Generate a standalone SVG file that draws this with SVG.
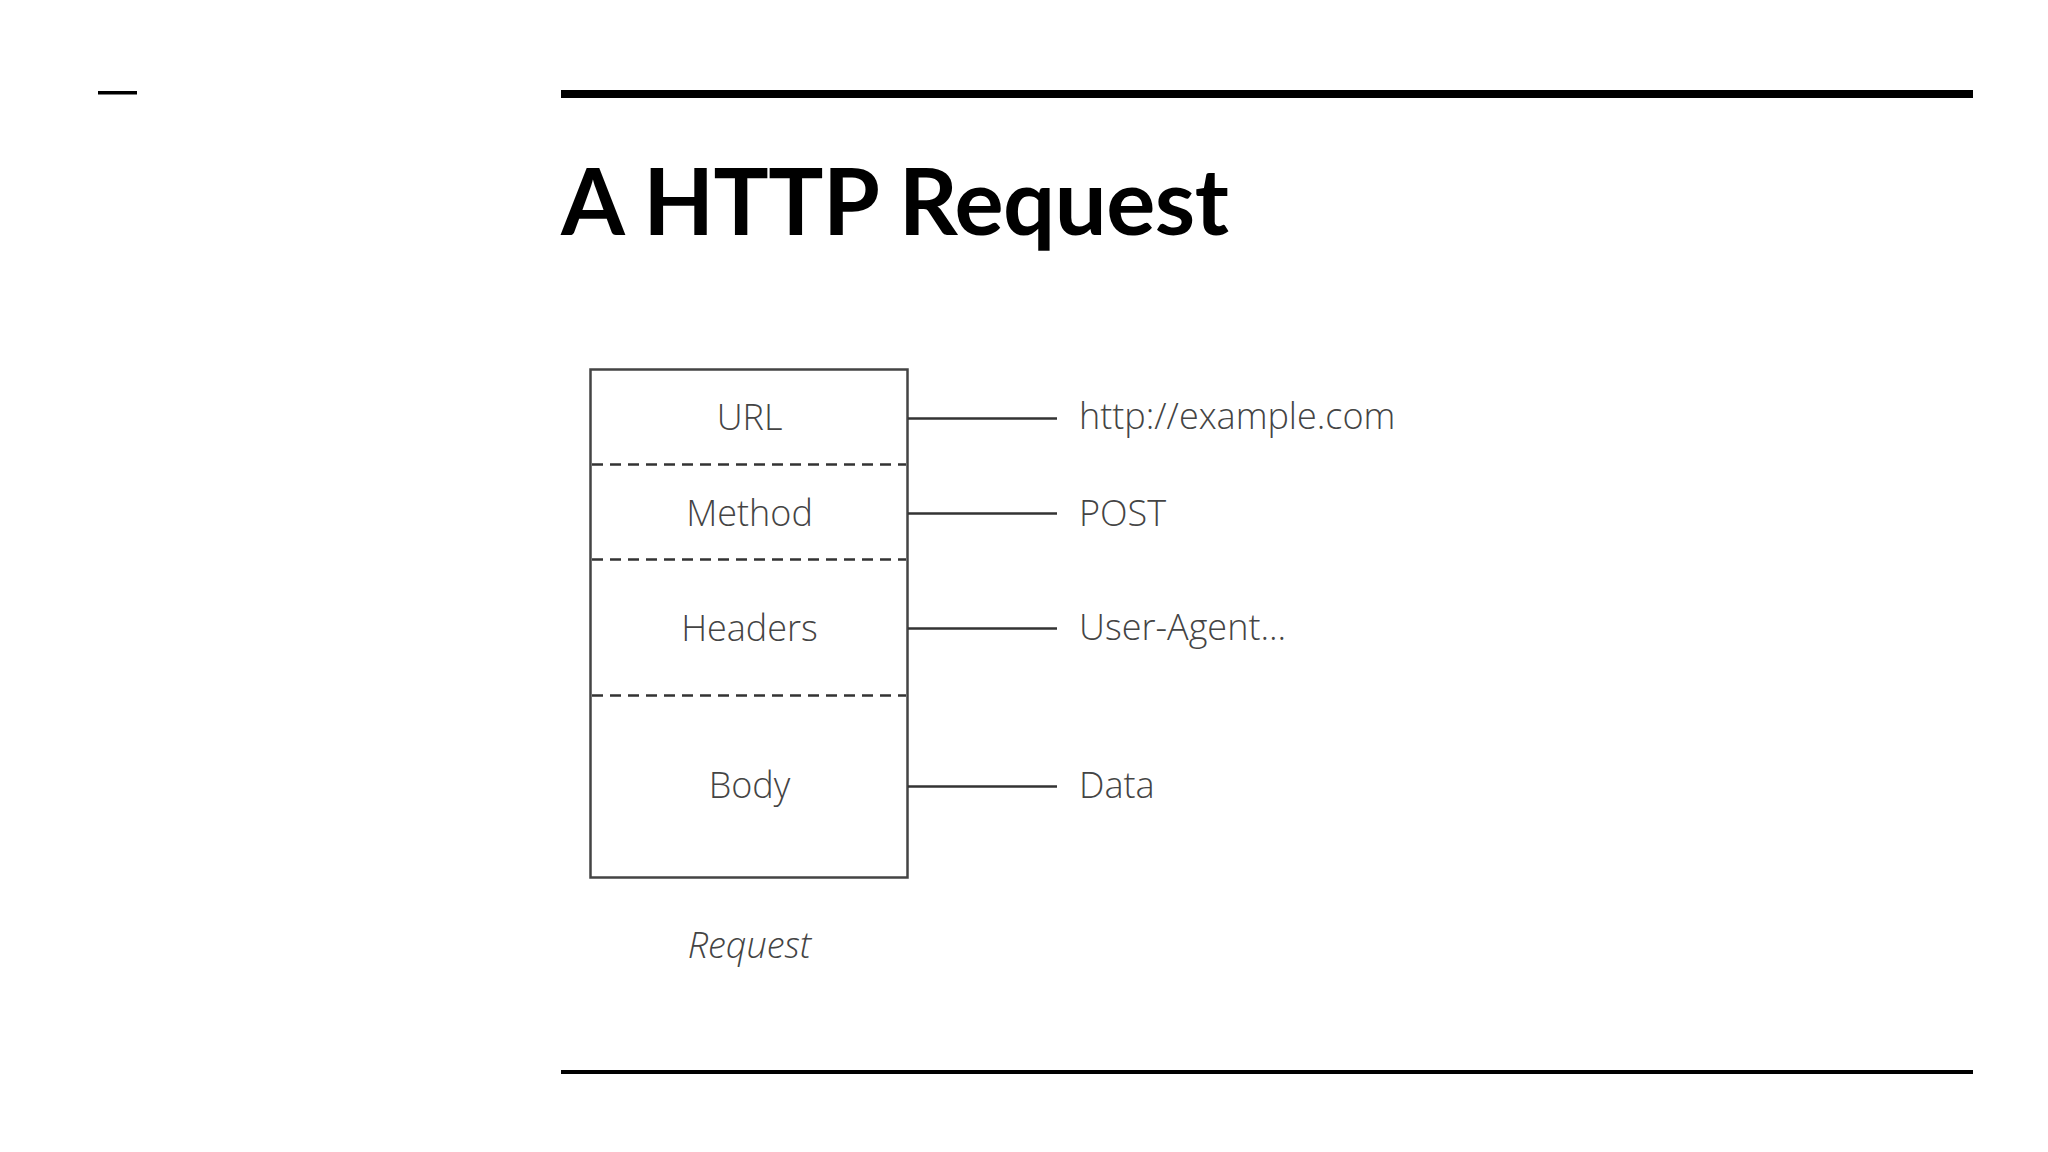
<svg xmlns="http://www.w3.org/2000/svg" width="2048" height="1152" viewBox="0 0 2048 1152">
<style>
.l{font-family:"Open Sans","DejaVu Sans",sans-serif;font-size:36px;fill:#444;font-weight:300}
.c{text-anchor:middle}
.k{stroke:#333;stroke-width:2.5;fill:none}
</style>
<rect width="2048" height="1152" fill="#fff"/>
<rect x="98" y="91" width="39" height="3.5" fill="#000"/>
<rect x="561" y="90" width="1412" height="8" fill="#000"/>
<rect x="561" y="1070" width="1412" height="4" fill="#000"/>
<text x="561" y="235" font-family="Lato,'Liberation Sans',sans-serif" font-weight="bold" font-size="92" textLength="668" fill="#000">A HTTP Request</text>
<g id="request">
<rect x="590.5" y="369.5" width="317" height="508" fill="#fff" stroke="#444" stroke-width="2.5"/>
<g stroke="#333" stroke-width="2.5" stroke-dasharray="11,7">
<line x1="592" y1="464.5" x2="906" y2="464.5"/>
<line x1="592" y1="559.5" x2="906" y2="559.5"/>
<line x1="592" y1="695.5" x2="906" y2="695.5"/>
</g>
<text class="l c" x="749.5" y="430">URL</text>
<text class="l c" x="749.5" y="526">Method</text>
<text class="l c" x="749.5" y="641">Headers</text>
<text class="l c" x="749.5" y="798">Body</text>
<text class="l c" x="749.5" y="958" font-style="italic">Request</text>
</g>
<g id="connectors">
<line class="k" x1="908" y1="418.5" x2="1057" y2="418.5"/>
<line class="k" x1="908" y1="513.5" x2="1057" y2="513.5"/>
<line class="k" x1="908" y1="628.5" x2="1057" y2="628.5"/>
<line class="k" x1="908" y1="786.5" x2="1057" y2="786.5"/>
</g>
<g id="values">
<text class="l" x="1079" y="429">http://example.com</text>
<text class="l" x="1079" y="526">POST</text>
<text class="l" x="1079" y="640">User-Agent...</text>
<text class="l" x="1079" y="798">Data</text>
</g>
</svg>
